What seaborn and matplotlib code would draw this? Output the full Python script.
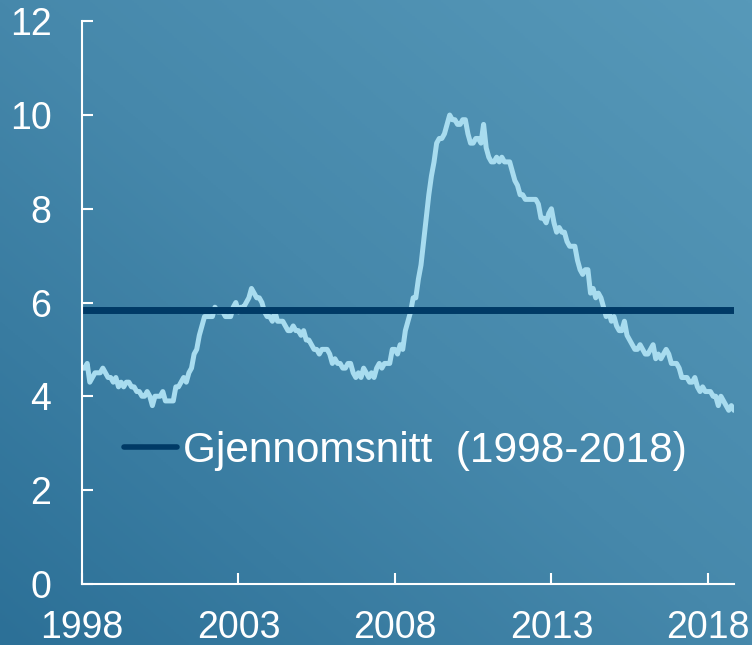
"""US unemployment rate 1998-2018 with long-run average, on a blue gradient."""
import matplotlib
matplotlib.use("Agg")
import matplotlib.pyplot as plt
from matplotlib.colors import LinearSegmentedColormap
import numpy as np
import pandas as pd
import seaborn as sns

# ── data (monthly, percent) ───────────────────────────────────────────
START_YEAR = 1998
rate_1998 = [4.6, 4.6, 4.7, 4.3, 4.4, 4.5, 4.5, 4.5, 4.6, 4.5, 4.4, 4.4]
rate_1999 = [4.3, 4.4, 4.2, 4.3, 4.2, 4.3, 4.3, 4.2, 4.2, 4.1, 4.1, 4.0]
rate_2000 = [4.0, 4.1, 4.0, 3.8, 4.0, 4.0, 4.0, 4.1, 3.9, 3.9, 3.9, 3.9]
rate_2001 = [4.2, 4.2, 4.3, 4.4, 4.3, 4.5, 4.6, 4.9, 5.0, 5.3, 5.5, 5.7]
rate_2002 = [5.7, 5.7, 5.7, 5.9, 5.8, 5.8, 5.8, 5.7, 5.7, 5.7, 5.9, 6.0]
rate_2003 = [5.8, 5.9, 5.9, 6.0, 6.1, 6.3, 6.2, 6.1, 6.1, 6.0, 5.8, 5.7]
rate_2004 = [5.7, 5.6, 5.8, 5.6, 5.6, 5.6, 5.5, 5.4, 5.4, 5.5, 5.4, 5.4]
rate_2005 = [5.3, 5.4, 5.2, 5.2, 5.1, 5.0, 5.0, 4.9, 5.0, 5.0, 5.0, 4.9]
rate_2006 = [4.7, 4.8, 4.7, 4.7, 4.6, 4.6, 4.7, 4.7, 4.5, 4.4, 4.5, 4.4]
rate_2007 = [4.6, 4.5, 4.4, 4.5, 4.4, 4.6, 4.7, 4.6, 4.7, 4.7, 4.7, 5.0]
rate_2008 = [5.0, 4.9, 5.1, 5.0, 5.4, 5.6, 5.8, 6.1, 6.1, 6.5, 6.8, 7.3]
rate_2009 = [7.8, 8.3, 8.7, 9.0, 9.4, 9.5, 9.5, 9.6, 9.8, 10.0, 9.9, 9.9]
rate_2010 = [9.8, 9.8, 9.9, 9.9, 9.6, 9.4, 9.4, 9.5, 9.5, 9.4, 9.8, 9.3]
rate_2011 = [9.1, 9.0, 9.0, 9.1, 9.0, 9.1, 9.0, 9.0, 9.0, 8.8, 8.6, 8.5]
rate_2012 = [8.3, 8.3, 8.2, 8.2, 8.2, 8.2, 8.2, 8.1, 7.8, 7.8, 7.7, 7.9]
rate_2013 = [8.0, 7.7, 7.5, 7.6, 7.5, 7.5, 7.3, 7.2, 7.2, 7.2, 6.9, 6.7]
rate_2014 = [6.6, 6.7, 6.7, 6.2, 6.3, 6.1, 6.2, 6.1, 5.9, 5.7, 5.8, 5.6]
rate_2015 = [5.7, 5.5, 5.4, 5.4, 5.6, 5.3, 5.2, 5.1, 5.0, 5.0, 5.1, 5.0]
rate_2016 = [4.9, 4.9, 5.0, 5.1, 4.8, 4.9, 4.8, 4.9, 5.0, 4.9, 4.7, 4.7]
rate_2017 = [4.7, 4.6, 4.4, 4.4, 4.4, 4.3, 4.3, 4.4, 4.2, 4.1, 4.2, 4.1]
rate_2018 = [4.1, 4.1, 4.0, 4.0, 3.8, 4.0, 3.9, 3.8, 3.7, 3.8, 3.7]

AVERAGE = 5.84
AVERAGE_LABEL = "Gjennomsnitt  (1998-2018)"
x_ticks = [1998, 2003, 2008, 2013, 2018]
y_ticks = [0, 2, 4, 6, 8, 10, 12]

rate = (rate_1998 + rate_1999 + rate_2000 + rate_2001 + rate_2002 + rate_2003
        + rate_2004 + rate_2005 + rate_2006 + rate_2007 + rate_2008 + rate_2009
        + rate_2010 + rate_2011 + rate_2012 + rate_2013 + rate_2014 + rate_2015
        + rate_2016 + rate_2017 + rate_2018)
df = pd.DataFrame({"year": START_YEAR + np.arange(len(rate)) / 12, "rate": rate})
x_end = df["year"].iloc[-1]
avg_df = pd.DataFrame({"year": [START_YEAR, x_end], "rate": [AVERAGE, AVERAGE]})

# ── style ─────────────────────────────────────────────────────────────
sns.set_style("ticks")
plt.rcParams["font.family"] = ["Liberation Sans", "DejaVu Sans"]

fig = plt.figure(figsize=(7.52, 6.45), dpi=100)

# diagonal gradient background
bg = fig.add_axes([0, 0, 1, 1], zorder=-10)
gx, gy = np.meshgrid(np.linspace(0, 1, 300), np.linspace(0, 1, 300))
grad = (gx + gy) / 2
cmap = LinearSegmentedColormap.from_list("bg", ["#2c7097", "#4688ab", "#5799b9"])
bg.imshow(grad, cmap=cmap, origin="lower", aspect="auto", extent=[0, 1, 0, 1])
bg.set_axis_off()

ax = fig.add_axes([0.109, 0.095, 0.867, 0.872])
ax.set_facecolor("none")

sns.lineplot(data=df, x="year", y="rate", color="#a8dcef", lw=3.6, ax=ax,
             solid_capstyle="round", solid_joinstyle="round")
sns.lineplot(data=avg_df, x="year", y="rate", color="#003a66", lw=5, ax=ax,
             label=AVERAGE_LABEL, solid_capstyle="round")

ax.set_xlim(START_YEAR, x_end)
ax.set_ylim(0, 12)
ax.set_xticks(x_ticks)
ax.set_yticks(y_ticks)
ax.set_xlabel("")
ax.set_ylabel("")

for side in ["top", "right"]:
    ax.spines[side].set_visible(False)
for side in ["left", "bottom"]:
    ax.spines[side].set_color("white")
    ax.spines[side].set_linewidth(1.5)

ax.tick_params(axis="both", direction="in", length=8, width=1.5,
               colors="white", labelsize=27)
ax.tick_params(axis="y", pad=22)
ax.tick_params(axis="x", pad=19)

leg = ax.legend(loc="center left", bbox_to_anchor=(0.064, 0.236), frameon=False,
                fontsize=30.5, handlelength=1.27, handletextpad=0.12, borderpad=0,
                borderaxespad=0)
for t in leg.get_texts():
    t.set_color("white")
for h in leg.legend_handles:
    h.set_linewidth(4)

fig.savefig("out.png", dpi=100)
plt.close(fig)
